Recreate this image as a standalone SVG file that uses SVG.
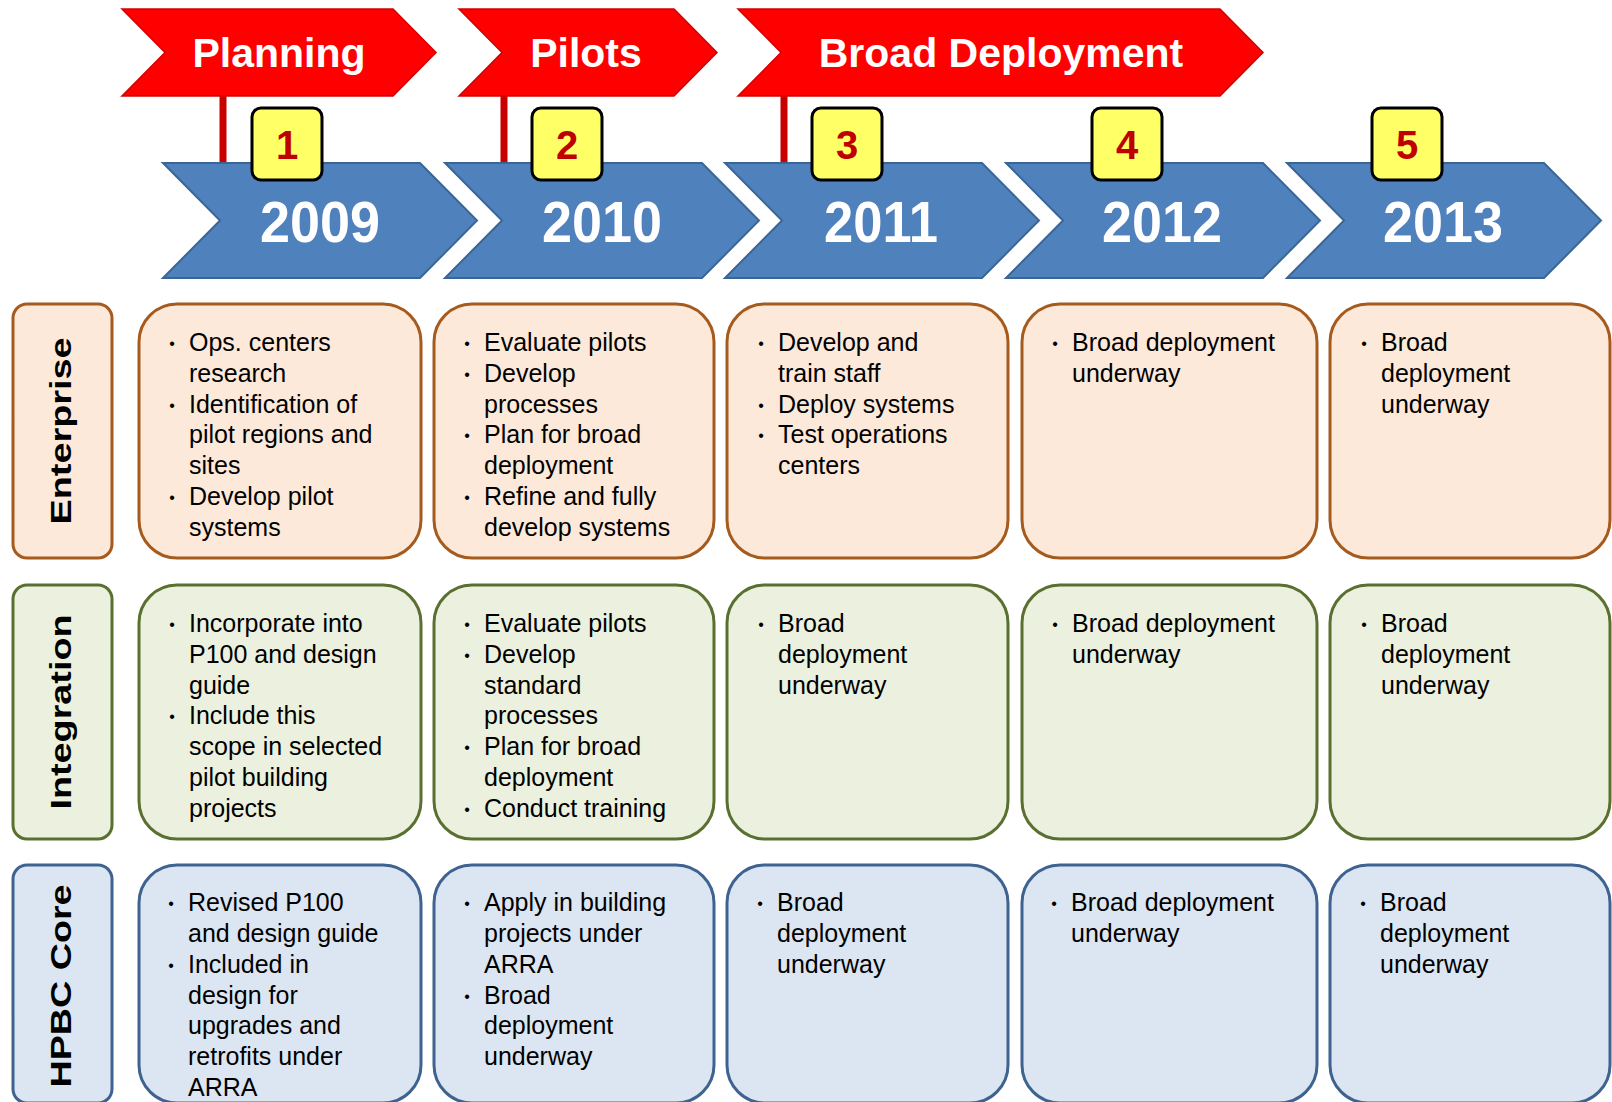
<svg xmlns="http://www.w3.org/2000/svg" width="1612" height="1102" viewBox="0 0 1612 1102">
<style>
.banner{fill:#FF0000;stroke:#D40000;stroke-width:1.5}
.pole{fill:#C80000}
.chev{fill:#4F81BD;stroke:#3A6697;stroke-width:2}
.badge{fill:#FFFF66;stroke:#000;stroke-width:3}
.bt{font-family:"Liberation Sans",Arial,sans-serif;font-weight:bold;font-size:41px;fill:#fff;text-anchor:middle}
.yt{font-family:"Liberation Sans",Arial,sans-serif;font-weight:bold;font-size:57px;fill:#fff;text-anchor:middle}
.nt{font-family:"Liberation Sans",Arial,sans-serif;font-weight:bold;font-size:40px;fill:#C00000;text-anchor:middle}
.lt{font-family:"Liberation Sans",Arial,sans-serif;font-weight:bold;font-size:30px;fill:#000;text-anchor:middle}
.tx{font-family:"Liberation Sans",Arial,sans-serif;font-size:25px;fill:#000}
.bu{font-family:"Liberation Sans",Arial,sans-serif;font-size:16px;fill:#000;text-anchor:middle}
.ent{fill:#FCE9DA;stroke:#A65B1E;stroke-width:3}
.int{fill:#EBF1DE;stroke:#5A7030;stroke-width:3}
.cor{fill:#DCE6F2;stroke:#3F6390;stroke-width:3}
</style>

<g id="connectors">
  <rect class="pole" x="219.5" y="95" width="7" height="69"/>
  <rect class="pole" x="500.5" y="95" width="7" height="69"/>
  <rect class="pole" x="780.5" y="95" width="7" height="69"/>
</g>

<g id="phase-planning">
  <polygon class="banner" points="122,9 393,9 436,52.5 393,96 122,96 165,52.5"/>
  <text class="bt" x="279" y="67">Planning</text>
</g>
<g id="phase-pilots">
  <polygon class="banner" points="459,9 674,9 717,52.5 674,96 459,96 502,52.5"/>
  <text class="bt" x="586" y="67">Pilots</text>
</g>
<g id="phase-broad">
  <polygon class="banner" points="738,9 1220,9 1263,52.5 1220,96 738,96 781,52.5"/>
  <text class="bt" x="1001" y="67">Broad Deployment</text>
</g>

<g id="year-2009">
  <polygon class="chev" points="163,163 420,163 477,220.5 420,278 163,278 220,220.5"/>
  <text class="yt" x="320" y="242" textLength="120" lengthAdjust="spacingAndGlyphs">2009</text>
</g>
<g id="year-2010">
  <polygon class="chev" points="445,163 702,163 759,220.5 702,278 445,278 502,220.5"/>
  <text class="yt" x="602" y="242" textLength="120" lengthAdjust="spacingAndGlyphs">2010</text>
</g>
<g id="year-2011">
  <polygon class="chev" points="725,163 982,163 1039,220.5 982,278 725,278 782,220.5"/>
  <text class="yt" x="881" y="242" textLength="114" lengthAdjust="spacingAndGlyphs">2011</text>
</g>
<g id="year-2012">
  <polygon class="chev" points="1006,163 1263,163 1320,220.5 1263,278 1006,278 1063,220.5"/>
  <text class="yt" x="1162" y="242" textLength="120" lengthAdjust="spacingAndGlyphs">2012</text>
</g>
<g id="year-2013">
  <polygon class="chev" points="1287,163 1544,163 1601,220.5 1544,278 1287,278 1344,220.5"/>
  <text class="yt" x="1443" y="242" textLength="120" lengthAdjust="spacingAndGlyphs">2013</text>
</g>

<g id="badge-1"><rect class="badge" x="252" y="108" width="70" height="72" rx="9"/><text class="nt" x="287" y="159">1</text></g>
<g id="badge-2"><rect class="badge" x="532" y="108" width="70" height="72" rx="9"/><text class="nt" x="567" y="159">2</text></g>
<g id="badge-3"><rect class="badge" x="812" y="108" width="70" height="72" rx="9"/><text class="nt" x="847" y="159">3</text></g>
<g id="badge-4"><rect class="badge" x="1092" y="108" width="70" height="72" rx="9"/><text class="nt" x="1127" y="159">4</text></g>
<g id="badge-5"><rect class="badge" x="1372" y="108" width="70" height="72" rx="9"/><text class="nt" x="1407" y="159">5</text></g>

<!-- Row labels -->
<g id="label-enterprise">
  <rect class="ent" x="13" y="304" width="99" height="254" rx="14"/>
  <text class="lt" transform="translate(71,431) rotate(-90)" textLength="187" lengthAdjust="spacingAndGlyphs">Enterprise</text>
</g>
<g id="label-integration">
  <rect class="int" x="13" y="585" width="99" height="254" rx="14"/>
  <text class="lt" transform="translate(71,712) rotate(-90)" textLength="195" lengthAdjust="spacingAndGlyphs">Integration</text>
</g>
<g id="label-hpbc">
  <rect class="cor" x="13" y="865" width="99" height="238" rx="14"/>
  <text class="lt" transform="translate(71,986) rotate(-90)" textLength="203" lengthAdjust="spacingAndGlyphs">HPBC Core</text>
</g>

<!-- Enterprise row -->
<g id="ent-2009">
  <rect class="ent" x="139" y="304" width="282" height="254" rx="38"/>
  <text class="bu" x="172" y="349">•</text><text class="tx" x="189" y="351">Ops. centers</text>
  <text class="tx" x="189" y="382">research</text>
  <text class="bu" x="172" y="411">•</text><text class="tx" x="189" y="413">Identification of</text>
  <text class="tx" x="189" y="443">pilot regions and</text>
  <text class="tx" x="189" y="474">sites</text>
  <text class="bu" x="172" y="503">•</text><text class="tx" x="189" y="505">Develop pilot</text>
  <text class="tx" x="189" y="536">systems</text>
</g>
<g id="ent-2010">
  <rect class="ent" x="434" y="304" width="280" height="254" rx="38"/>
  <text class="bu" x="467" y="349">•</text><text class="tx" x="484" y="351">Evaluate pilots</text>
  <text class="bu" x="467" y="380">•</text><text class="tx" x="484" y="382">Develop</text>
  <text class="tx" x="484" y="413">processes</text>
  <text class="bu" x="467" y="441">•</text><text class="tx" x="484" y="443">Plan for broad</text>
  <text class="tx" x="484" y="474">deployment</text>
  <text class="bu" x="467" y="503">•</text><text class="tx" x="484" y="505">Refine and fully</text>
  <text class="tx" x="484" y="536">develop systems</text>
</g>
<g id="ent-2011">
  <rect class="ent" x="727" y="304" width="281" height="254" rx="38"/>
  <text class="bu" x="761" y="349">•</text><text class="tx" x="778" y="351">Develop and</text>
  <text class="tx" x="778" y="382">train staff</text>
  <text class="bu" x="761" y="411">•</text><text class="tx" x="778" y="413">Deploy systems</text>
  <text class="bu" x="761" y="441">•</text><text class="tx" x="778" y="443">Test operations</text>
  <text class="tx" x="778" y="474">centers</text>
</g>
<g id="ent-2012">
  <rect class="ent" x="1022" y="304" width="295" height="254" rx="38"/>
  <text class="bu" x="1055" y="349">•</text><text class="tx" x="1072" y="351">Broad deployment</text>
  <text class="tx" x="1072" y="382">underway</text>
</g>
<g id="ent-2013">
  <rect class="ent" x="1330" y="304" width="280" height="254" rx="38"/>
  <text class="bu" x="1364" y="349">•</text><text class="tx" x="1381" y="351">Broad</text>
  <text class="tx" x="1381" y="382">deployment</text>
  <text class="tx" x="1381" y="413">underway</text>
</g>

<!-- Integration row -->
<g id="int-2009">
  <rect class="int" x="139" y="585" width="282" height="254" rx="38"/>
  <text class="bu" x="172" y="630">•</text><text class="tx" x="189" y="632">Incorporate into</text>
  <text class="tx" x="189" y="663">P100 and design</text>
  <text class="tx" x="189" y="694">guide</text>
  <text class="bu" x="172" y="722">•</text><text class="tx" x="189" y="724">Include this</text>
  <text class="tx" x="189" y="755">scope in selected</text>
  <text class="tx" x="189" y="786">pilot building</text>
  <text class="tx" x="189" y="817">projects</text>
</g>
<g id="int-2010">
  <rect class="int" x="434" y="585" width="280" height="254" rx="38"/>
  <text class="bu" x="467" y="630">•</text><text class="tx" x="484" y="632">Evaluate pilots</text>
  <text class="bu" x="467" y="661">•</text><text class="tx" x="484" y="663">Develop</text>
  <text class="tx" x="484" y="694">standard</text>
  <text class="tx" x="484" y="724">processes</text>
  <text class="bu" x="467" y="753">•</text><text class="tx" x="484" y="755">Plan for broad</text>
  <text class="tx" x="484" y="786">deployment</text>
  <text class="bu" x="467" y="815">•</text><text class="tx" x="484" y="817">Conduct training</text>
</g>
<g id="int-2011">
  <rect class="int" x="727" y="585" width="281" height="254" rx="38"/>
  <text class="bu" x="761" y="630">•</text><text class="tx" x="778" y="632">Broad</text>
  <text class="tx" x="778" y="663">deployment</text>
  <text class="tx" x="778" y="694">underway</text>
</g>
<g id="int-2012">
  <rect class="int" x="1022" y="585" width="295" height="254" rx="38"/>
  <text class="bu" x="1055" y="630">•</text><text class="tx" x="1072" y="632">Broad deployment</text>
  <text class="tx" x="1072" y="663">underway</text>
</g>
<g id="int-2013">
  <rect class="int" x="1330" y="585" width="280" height="254" rx="38"/>
  <text class="bu" x="1364" y="630">•</text><text class="tx" x="1381" y="632">Broad</text>
  <text class="tx" x="1381" y="663">deployment</text>
  <text class="tx" x="1381" y="694">underway</text>
</g>

<!-- HPBC Core row -->
<g id="cor-2009">
  <rect class="cor" x="139" y="865" width="282" height="238" rx="38"/>
  <text class="bu" x="171" y="909">•</text><text class="tx" x="188" y="911">Revised P100</text>
  <text class="tx" x="188" y="942">and design guide</text>
  <text class="bu" x="171" y="971">•</text><text class="tx" x="188" y="973">Included in</text>
  <text class="tx" x="188" y="1004">design for</text>
  <text class="tx" x="188" y="1034">upgrades and</text>
  <text class="tx" x="188" y="1065">retrofits under</text>
  <text class="tx" x="188" y="1096">ARRA</text>
</g>
<g id="cor-2010">
  <rect class="cor" x="434" y="865" width="280" height="238" rx="38"/>
  <text class="bu" x="467" y="909">•</text><text class="tx" x="484" y="911">Apply in building</text>
  <text class="tx" x="484" y="942">projects under</text>
  <text class="tx" x="484" y="973">ARRA</text>
  <text class="bu" x="467" y="1002">•</text><text class="tx" x="484" y="1004">Broad</text>
  <text class="tx" x="484" y="1034">deployment</text>
  <text class="tx" x="484" y="1065">underway</text>
</g>
<g id="cor-2011">
  <rect class="cor" x="727" y="865" width="281" height="238" rx="38"/>
  <text class="bu" x="760" y="909">•</text><text class="tx" x="777" y="911">Broad</text>
  <text class="tx" x="777" y="942">deployment</text>
  <text class="tx" x="777" y="973">underway</text>
</g>
<g id="cor-2012">
  <rect class="cor" x="1022" y="865" width="295" height="238" rx="38"/>
  <text class="bu" x="1054" y="909">•</text><text class="tx" x="1071" y="911">Broad deployment</text>
  <text class="tx" x="1071" y="942">underway</text>
</g>
<g id="cor-2013">
  <rect class="cor" x="1330" y="865" width="280" height="238" rx="38"/>
  <text class="bu" x="1363" y="909">•</text><text class="tx" x="1380" y="911">Broad</text>
  <text class="tx" x="1380" y="942">deployment</text>
  <text class="tx" x="1380" y="973">underway</text>
</g>
</svg>
